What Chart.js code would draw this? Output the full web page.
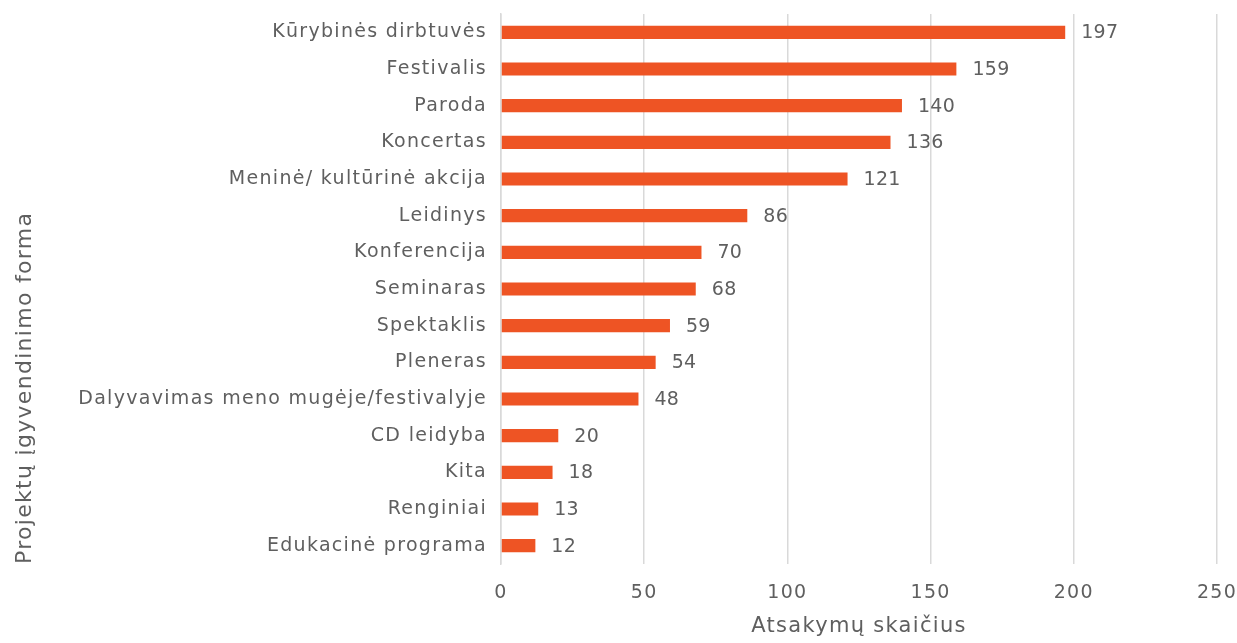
<!DOCTYPE html>
<html>
<head>
<meta charset="utf-8">
<script src="https://cdn.jsdelivr.net/npm/chart.js@4/dist/chart.umd.min.js"></script>
<style>
  html, body { margin: 0; padding: 0; background: #ffffff; }
  #wrap { width: 1237px; height: 643px; }
</style>
</head>
<body>
<div id="wrap"><canvas id="chart" width="1237" height="643"></canvas></div>
<script>
// Projekto įgyvendinimo formos
const categories = [
    'Kūrybinės dirbtuvės', 'Festivalis', 'Paroda', 'Koncertas',
    'Meninė/ kultūrinė akcija', 'Leidinys', 'Konferencija', 'Seminaras',
    'Spektaklis', 'Pleneras', 'Dalyvavimas meno mugėje/festivalyje',
    'CD leidyba', 'Kita', 'Renginiai', 'Edukacinė programa'
];
const answers = [197, 159, 140, 136, 121, 86, 70, 68, 59, 54, 48, 20, 18, 13, 12];
const xTicks = [0, 50, 100, 150, 200, 250];

const textColor = '#5f5f5f';
const fontFamily = "'DejaVu Sans', sans-serif";
const spacing = '1.3px';

// wider text, closer to the original font
const wideText = {
    id: 'wideText',
    beforeLayout(chart) { chart.ctx.letterSpacing = spacing; },
    beforeDraw(chart) { chart.ctx.letterSpacing = spacing; }
};

// value labels next to bar ends
const valueLabels = {
    id: 'valueLabels',
    afterDatasetsDraw(chart) {
        const ctx = chart.ctx;
        const meta = chart.getDatasetMeta(0);
        ctx.save();
        ctx.letterSpacing = '0.3px';
        ctx.fillStyle = textColor;
        ctx.font = '19px ' + fontFamily;
        ctx.textAlign = 'left';
        ctx.textBaseline = 'middle';
        meta.data.forEach((bar, i) => {
            ctx.fillText(String(answers[i]), bar.x + 16, bar.y + 1);
        });
        ctx.restore();
    }
};

const ctx = document.getElementById('chart').getContext('2d');
new Chart(ctx, {
    type: 'bar',
    data: {
        labels: categories,
        datasets: [{
            data: answers,
            backgroundColor: '#EE5424',
            categoryPercentage: 0.36,
            barPercentage: 1
        }]
    },
    plugins: [wideText, valueLabels],
    options: {
        indexAxis: 'y',
        responsive: false,
        animation: false,
        layout: { padding: { top: 14, right: 20, left: 0, bottom: 0 } },
        plugins: {
            legend: { display: false },
            tooltip: { enabled: false }
        },
        scales: {
            x: {
                min: 0,
                max: 250,
                afterBuildTicks: (scale) => { scale.ticks = xTicks.map(v => ({ value: v })); },
                afterFit: (scale) => {
                    scale.height = 79;
                    scale.paddingLeft = 0;
                    scale.paddingRight = 0;
                },
                grid: { color: '#d9d9d9', lineWidth: 1.5, drawTicks: false },
                border: { display: false },
                ticks: { color: textColor, padding: 18, font: { size: 19, family: fontFamily } },
                title: {
                    display: true,
                    text: 'Atsakymų skaičius',
                    color: textColor,
                    padding: { top: 13 },
                    font: { size: 21, family: fontFamily }
                }
            },
            y: {
                afterFit: (scale) => {
                    scale.width = 501;
                    scale.paddingTop = 0;
                    scale.paddingBottom = 0;
                },
                grid: { display: false, drawTicks: false },
                border: { display: true, color: '#d9d9d9', width: 1.5 },
                ticks: { color: textColor, padding: 14, font: { size: 19, family: fontFamily } },
                title: {
                    display: true,
                    text: 'Projektų įgyvendinimo forma',
                    align: 'start',
                    color: textColor,
                    padding: { top: 12, bottom: 0 },
                    font: { size: 22, family: fontFamily }
                }
            }
        }
    }
});
</script>
</body>
</html>
